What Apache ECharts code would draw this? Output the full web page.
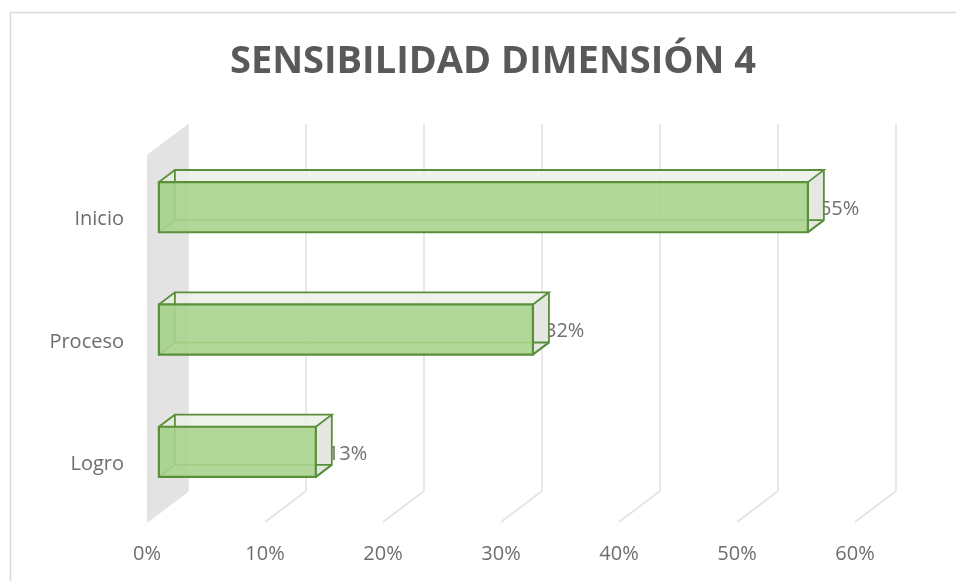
<!DOCTYPE html>
<html>
<head>
<meta charset="utf-8">
<script src="https://cdn.jsdelivr.net/npm/echarts@6/dist/echarts.min.js"></script>
<style>
  html, body { margin: 0; padding: 0; background: #fff; }
  #chart { width: 956px; height: 581px; }
</style>
</head>
<body>
<div id="chart"></div>
<script>
var categories = ['Inicio', 'Proceso', 'Logro'];
var values = [0.55, 0.317, 0.133];
var valueLabels = ['55%', '32%', '13%'];
var tickValues = [0, 0.1, 0.2, 0.3, 0.4, 0.5, 0.6];

// 3D look: depth vector of the plot box and where the bars sit in it
var DX = 41, DY = -31;
var F_FRONT = 0.29, F_BACK = 0.68;
var EDGE = '#5a8f3a';
var FONT = "'Open Sans', 'Liberation Sans', sans-serif";

var myChart = echarts.init(document.getElementById('chart'));

function wallItem(params, api) {
    var cs = params.coordSys;
    var x = api.coord([0, 0])[0];
    var top = cs.y, bottom = cs.y + cs.height;
    return {
        type: 'polygon',
        shape: { points: [[x, top], [x + DX, top + DY], [x + DX, bottom + DY], [x, bottom]] },
        style: { fill: '#e3e3e3' },
        silent: true
    };
}

function gridItem(params, api) {
    var cs = params.coordSys;
    var x = api.coord([api.value(0), 0])[0];
    var top = cs.y, bottom = cs.y + cs.height;
    var st = { stroke: '#e3e3e3', lineWidth: 1.6 };
    return {
        type: 'group',
        children: [
            { type: 'line', shape: { x1: x + DX, y1: top + DY, x2: x + DX, y2: bottom + DY }, style: st },
            { type: 'line', shape: { x1: x + DX, y1: bottom + DY, x2: x, y2: bottom }, style: st }
        ],
        silent: true
    };
}

function barItem(params, api) {
    var v = api.value(0), c = api.value(1);
    var p0 = api.coord([0, c]);
    var p1 = api.coord([v, c]);
    var h = api.size([0, 1])[1] * 0.41;
    var fx = DX * F_FRONT, fy = DY * F_FRONT;
    var ddx = DX * (F_BACK - F_FRONT), ddy = DY * (F_BACK - F_FRONT);
    var x0 = p0[0] + fx, x1 = p1[0] + fx;
    var yc = p0[1] + fy;
    var yT = yc - h / 2, yB = yc + h / 2;
    var edge = { stroke: EDGE, lineWidth: 1.8, fill: null };
    return {
        type: 'group',
        children: [
            {
                type: 'text',
                style: {
                    text: valueLabels[params.dataIndex],
                    x: x1 + ddx - 4, y: yc + 2,
                    verticalAlign: 'middle', align: 'left',
                    fill: '#707070', fontSize: 20, fontFamily: FONT
                }
            },
            // left end
            {
                type: 'polygon',
                shape: { points: [[x0, yT], [x0 + ddx, yT + ddy], [x0 + ddx, yB + ddy], [x0, yB]] },
                style: { fill: 'rgba(120,180,90,0.35)' }
            },
            // top
            {
                type: 'polygon',
                shape: { points: [[x0, yT], [x1, yT], [x1 + ddx, yT + ddy], [x0 + ddx, yT + ddy]] },
                style: { fill: 'rgba(236,238,232,0.85)' }
            },
            // right end
            {
                type: 'polygon',
                shape: { points: [[x1, yT], [x1 + ddx, yT + ddy], [x1 + ddx, yB + ddy], [x1, yB]] },
                style: { fill: 'rgba(226,229,223,0.92)' }
            },
            // hidden edges seen through the faces
            { type: 'line', shape: { x1: x0 + ddx, y1: yT + ddy, x2: x0 + ddx, y2: yB + ddy }, style: edge },
            { type: 'line', shape: { x1: x0 + ddx, y1: yB + ddy, x2: x1 + ddx, y2: yB + ddy }, style: edge },
            { type: 'line', shape: { x1: x0, y1: yB, x2: x0 + ddx, y2: yB + ddy }, style: edge },
            { type: 'line', shape: { x1: x1, y1: yB, x2: x1 + ddx, y2: yB + ddy }, style: edge },
            // front
            {
                type: 'rect',
                shape: { x: x0, y: yT, width: x1 - x0, height: h },
                style: { fill: 'rgba(169,212,142,0.9)', stroke: EDGE, lineWidth: 2.2 }
            },
            // outer edges of top and right
            {
                type: 'polyline',
                shape: { points: [[x0, yT], [x0 + ddx, yT + ddy], [x1 + ddx, yT + ddy], [x1, yT]] },
                style: edge
            },
            {
                type: 'polyline',
                shape: { points: [[x1 + ddx, yT + ddy], [x1 + ddx, yB + ddy], [x1, yB]] },
                style: edge
            }
        ]
    };
}

var option = {
    backgroundColor: '#ffffff',
    animation: false,
    title: {
        text: 'SENSIBILIDAD DIMENSIÓN 4',
        left: 488,
        top: 38,
        textAlign: 'center',
        textStyle: { fontFamily: FONT, fontSize: 38, fontWeight: 'bold', color: '#595959' }
    },
    graphic: [{
        type: 'rect',
        shape: { x: 10.5, y: 12.5, width: 1000, height: 700 },
        style: { fill: null, stroke: '#d9d9d9', lineWidth: 1.5 },
        silent: true,
        z: -10
    }],
    grid: { left: 147, right: 101, top: 155, bottom: 59, containLabel: false },
    xAxis: {
        type: 'value',
        min: 0,
        max: 0.6,
        interval: 0.1,
        axisLine: { show: false },
        axisTick: { show: false },
        splitLine: { show: false },
        axisLabel: {
            margin: 22,
            color: '#6d6d6d',
            fontSize: 20,
            fontFamily: FONT,
            formatter: function (v) { return Math.round(v * 100) + '%'; }
        }
    },
    yAxis: {
        type: 'category',
        inverse: true,
        data: categories,
        axisLine: { show: false },
        axisTick: { show: false },
        splitLine: { show: false },
        axisLabel: {
            margin: 23,
            formatter: function (v) { return '{c|' + v + '}'; },
            rich: {
                c: { padding: [7, 0, 0, 0], color: '#6d6d6d', fontSize: 20, fontFamily: FONT }
            }
        }
    },
    series: [
        {
            type: 'custom',
            renderItem: gridItem,
            data: tickValues.map(function (t) { return [t]; }),
            z: 1
        },
        {
            type: 'custom',
            renderItem: wallItem,
            data: [[0]],
            z: 2
        },
        {
            type: 'custom',
            renderItem: barItem,
            encode: { x: 0, y: 1 },
            data: values.map(function (v, i) { return [v, i]; }),
            z: 3
        }
    ]
};

myChart.setOption(option);
</script>
</body>
</html>
